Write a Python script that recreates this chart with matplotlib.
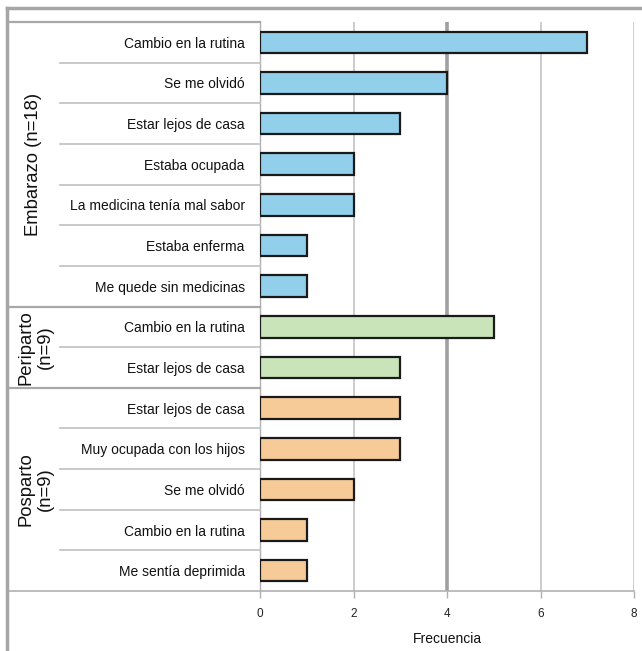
import matplotlib
matplotlib.use("Agg")
import matplotlib.pyplot as plt
from matplotlib import transforms
from matplotlib.lines import Line2D

plt.rcParams['font.family'] = ['Liberation Sans', 'DejaVu Sans']

categories = [
    "Cambio en la rutina", "Se me olvidó", "Estar lejos de casa", "Estaba ocupada",
    "La medicina tenía mal sabor", "Estaba enferma", "Me quede sin medicinas",
    "Cambio en la rutina", "Estar lejos de casa",
    "Estar lejos de casa", "Muy ocupada con los hijos", "Se me olvidó",
    "Cambio en la rutina", "Me sentía deprimida",
]
values = [7, 4, 3, 2, 2, 1, 1, 5, 3, 3, 3, 2, 1, 1]
groups = ["Embarazo (n=18)", "Periparto\n(n=9)", "Posparto\n(n=9)"]
group_sizes = [7, 2, 5]
group_colors = ["#92CFEB", "#C9E4B8", "#F7CB98"]
xticks = [0, 2, 4, 6, 8]

W, H = 642, 651
fig = plt.figure(figsize=(W / 100, H / 100), dpi=100)
ax = fig.add_axes([260 / W, (H - 591) / H, (634 - 260) / W, (591 - 22) / H])

colors = []
for c, n in zip(group_colors, group_sizes):
    colors += [c] * n

ypos = list(range(len(values)))
ax.barh(ypos, values, height=0.53, color=colors, edgecolor="#1a1a1a", linewidth=1.6, zorder=3)
ax.set_xlim(0, 8)
ax.set_ylim(len(values) - 0.5, -0.5)

# grid
for x in xticks[1:]:
    if x == 4:
        ax.axvline(x, color="#a0a0a0", lw=2.6, zorder=1)
    else:
        ax.axvline(x, color="#c4c4c4", lw=1.2, zorder=1)

for s in ["top", "right"]:
    ax.spines[s].set_visible(False)
ax.spines["left"].set_color("#b0b0b0")
ax.spines["left"].set_linewidth(1.0)
ax.spines["bottom"].set_visible(False)

ax.set_xticks(xticks)
ax.set_xticklabels([str(t) for t in xticks], fontsize=8.5, color="#222222")
ax.tick_params(axis="x", length=5, color="#b0b0b0", width=1, pad=7)
ax.set_yticks(ypos)
ax.set_yticklabels(categories, fontsize=10, color="#111111")
ax.tick_params(axis="y", length=0, pad=11)
ax.set_xlabel("Frecuencia", fontsize=10, labelpad=9, color="#111111")

# label-area lines
bt = transforms.blended_transform_factory(fig.transFigure, ax.transData)
xl = 8 / W
xs = 60 / W
xa = 260 / W
xr = 634 / W
bounds = []
acc = 0
for n in group_sizes[:-1]:
    acc += n
    bounds.append(acc - 0.5)
for k in range(len(values) - 1):
    yb = k + 0.5
    if yb in bounds:
        fig.add_artist(Line2D([xl, xa], [yb, yb], transform=bt, color="#a8a8a8", lw=1.6))
    else:
        fig.add_artist(Line2D([xs, xa], [yb, yb], transform=bt, color="#c0c0c0", lw=1.2))
fig.add_artist(Line2D([xl, xa], [-0.5, -0.5], transform=bt, color="#a8a8a8", lw=1.6))
fig.add_artist(Line2D([xl, xr], [len(values) - 0.5] * 2, transform=bt, color="#b0b0b0", lw=1.2))

# outer frame
fig.add_artist(Line2D([7 / W, 1], [(H - 8) / H] * 2, transform=fig.transFigure, color="#a6a6a6", lw=2.5))
fig.add_artist(Line2D([7 / W, 7 / W], [0, (H - 8) / H], transform=fig.transFigure, color="#a6a6a6", lw=2.5))

# group labels
start = 0
for g, n in zip(groups, group_sizes):
    center = start + (n - 1) / 2
    xc = 33 / W if "\n" not in g else 35.5 / W
    fig.text(xc, center, g, transform=bt, rotation=90, ha="center", va="center",
             fontsize=13.3, color="#111111", linespacing=1.22)
    start += n

fig.savefig("out.png", dpi=100)
